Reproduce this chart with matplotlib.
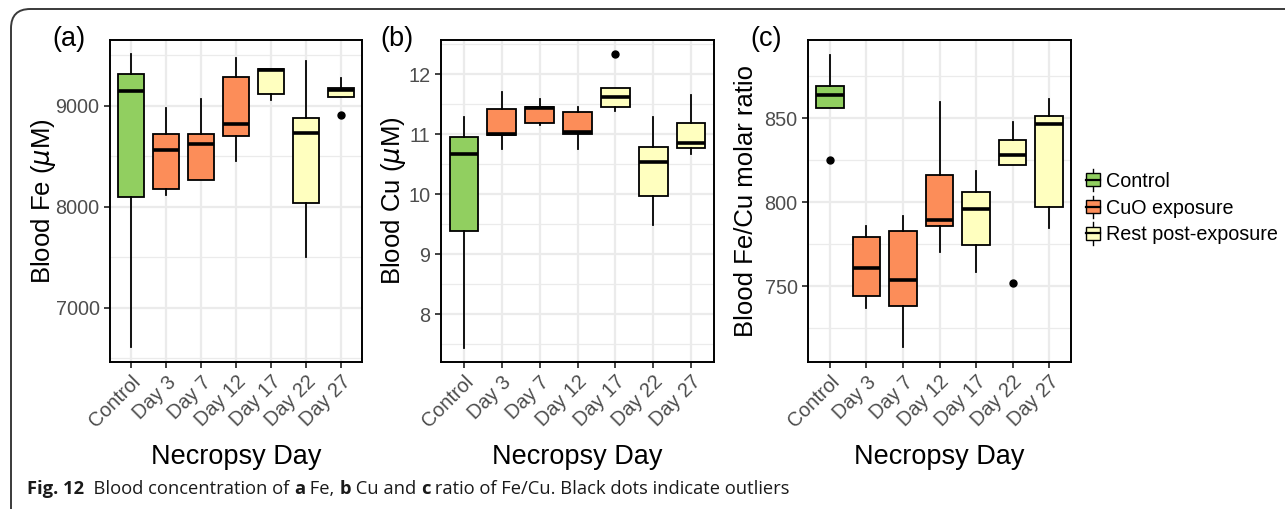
import matplotlib
matplotlib.use("Agg")
import matplotlib.pyplot as plt
from matplotlib.patches import Rectangle, FancyBboxPatch
from matplotlib.lines import Line2D
from matplotlib.legend_handler import HandlerBase
from matplotlib.ticker import MultipleLocator

plt.rcParams['font.family'] = ['Liberation Sans', 'DejaVu Sans']

days = ["Control", "Day 3", "Day 7", "Day 12", "Day 17", "Day 22", "Day 27"]
groups = ["Control", "CuO exposure", "CuO exposure", "CuO exposure",
          "Rest post-exposure", "Rest post-exposure", "Rest post-exposure"]
group_colors = {"Control": "#91CF60", "CuO exposure": "#FC8D59",
                "Rest post-exposure": "#FFFFBF"}

# (a) Blood Fe, uM: whisker low, Q1, median, Q3, whisker high, outliers
fe_low = [6617, 8119, 8267, 8452, 9059, 7508, 9086]
fe_q1 = [8102, 8178, 8267, 8703, 9116, 8043, 9086]
fe_med = [9145, 8561, 8621, 8825, 9356, 8736, 9158]
fe_q3 = [9317, 8723, 8720, 9284, 9370, 8878, 9178]
fe_high = [9515, 8977, 9073, 9472, 9370, 9449, 9274]
fe_out = [[], [], [], [], [], [], [8911]]

# (b) Blood Cu, uM
cu_low = [7.44, 10.745, 11.145, 10.755, 11.38, 9.48, 10.67]
cu_q1 = [9.38, 10.98, 11.19, 11.005, 11.445, 9.97, 10.77]
cu_med = [10.67, 11.005, 11.43, 11.03, 11.62, 10.54, 10.845]
cu_q3 = [10.945, 11.42, 11.455, 11.37, 11.77, 10.79, 11.18]
cu_high = [11.29, 11.705, 11.58, 11.445, 11.77, 11.29, 11.655]
cu_out = [[], [], [], [], [12.33], [], []]

# (c) Fe/Cu molar ratio
ra_low = [856.2, 737.0, 713.6, 770.2, 758.7, 822.4, 784.4]
ra_q1 = [856.2, 744.4, 738.3, 785.9, 774.5, 822.4, 797.4]
ra_med = [863.9, 760.8, 753.7, 789.3, 795.7, 828.3, 846.7]
ra_q3 = [869.4, 779.2, 782.8, 816.0, 806.1, 837.2, 851.2]
ra_high = [887.6, 785.8, 791.7, 859.5, 818.6, 847.6, 861.5]
ra_out = [[825], [], [], [], [], [752], []]

W, H = 1285, 509
fig = plt.figure(figsize=(W / 100, H / 100), dpi=100)


def fx(px):
    return px / W


def fy(py):
    return 1 - py / H


top, bot = 40, 362


def draw_panel(left, right, low, q1, med, q3, high, out, ylim, major, minor,
               ylabel, ylab_x, tag, tag_x):
    ax = fig.add_axes([fx(left), fy(bot), fx(right - left), (bot - top) / H])
    stats = []
    for i in range(len(days)):
        stats.append(dict(whislo=low[i], q1=q1[i], med=med[i], q3=q3[i],
                          whishi=high[i], fliers=out[i]))
    pos = list(range(1, len(days) + 1))
    res = ax.bxp(stats, positions=pos, widths=0.75, patch_artist=True,
                 showcaps=False,
                 boxprops=dict(linewidth=1.3, edgecolor="black"),
                 medianprops=dict(color="black", linewidth=2.6),
                 whiskerprops=dict(color="black", linewidth=1.3),
                 flierprops=dict(marker="o", markerfacecolor="black",
                                 markeredgecolor="black", markersize=5))
    for patch, g in zip(res["boxes"], groups):
        patch.set_facecolor(group_colors[g])
    ax.set_xlim(0.4, 7.6)
    ax.set_ylim(*ylim)
    ax.yaxis.set_major_locator(MultipleLocator(major))
    ax.yaxis.set_minor_locator(MultipleLocator(minor))
    ax.set_xticks(pos)
    ax.set_xticklabels(days, rotation=45, ha="right", va="top",
                       rotation_mode="anchor")
    ax.grid(True, which="major", color="#EBEBEB", linewidth=1.6)
    ax.grid(True, which="minor", axis="y", color="#EBEBEB", linewidth=0.9)
    ax.set_axisbelow(True)
    ax.tick_params(which="major", length=4.5, width=1.3, color="#333333",
                   labelcolor="#4D4D4D", labelsize=14.3, pad=3)
    ax.tick_params(which="minor", length=0)
    for lbl in ax.get_xticklabels() + ax.get_yticklabels():
        lbl.set_fontfamily(["Liberation Sans", "DejaVu Sans"])
    for s in ax.spines.values():
        s.set_linewidth(1.4)
        s.set_color("black")
    ax.set_ylabel(ylabel, fontsize=18.5, color="black")
    ax.yaxis.label.set_verticalalignment("baseline")
    ax.yaxis.set_label_coords((ylab_x - left) / (right - left), 0.5)
    ax.set_xlabel("Necropsy Day", fontsize=19.5, color="black")
    ax.xaxis.label.set_verticalalignment("baseline")
    ax.xaxis.set_label_coords(0.5, -(463.5 - bot) / (bot - top))
    fig.text(fx(tag_x), fy(39), tag, fontsize=19.5, ha="left", va="center")
    return ax


draw_panel(110, 362, fe_low, fe_q1, fe_med, fe_q3, fe_high, fe_out,
           (6465, 9653), 1000, 500, r"Blood Fe ($\mu$M)", 50, "(a)", 52)
draw_panel(441, 714, cu_low, cu_q1, cu_med, cu_q3, cu_high, cu_out,
           (7.2, 12.567), 1, 0.5, r"Blood Cu ($\mu$M)", 400, "(b)", 380)
draw_panel(808, 1071, ra_low, ra_q1, ra_med, ra_q3, ra_high, ra_out,
           (704.9, 896.5), 50, 25, "Blood Fe/Cu molar ratio", 753, "(c)", 750)


class BoxKey(HandlerBase):
    def create_artists(self, legend, orig, xd, yd, width, height, fontsize, trans):
        cx = xd + width / 2
        bw = width * 0.9
        bh = height * 0.95
        wl = Line2D([cx, cx], [yd - height * 0.3, yd + height * 1.3],
                    color="black", linewidth=1.0, transform=trans)
        box = Rectangle((cx - bw / 2, yd + (height - bh) / 2), bw, bh,
                        facecolor=orig.get_facecolor(), edgecolor="black",
                        linewidth=1.0, transform=trans)
        md = Line2D([cx - bw / 2, cx + bw / 2], [yd + height / 2] * 2,
                    color="black", linewidth=1.6, transform=trans)
        return [wl, box, md]


handles = [Rectangle((0, 0), 1, 1, facecolor=group_colors[g]) for g in group_colors]
fig.legend(handles, list(group_colors), handler_map={Rectangle: BoxKey()},
           loc="center left", bbox_to_anchor=(fx(1085), fy(208)), frameon=False,
           fontsize=14.2, handlelength=0.8, handleheight=0.7, handletextpad=0.25,
           labelspacing=0.4, borderaxespad=0, borderpad=0)

# outer frame of the figure panel
frame = FancyBboxPatch((fx(11), fy(560)), fx(1400), (560 - 9) / H,
                       boxstyle="round,pad=0,rounding_size=0.015",
                       transform=fig.transFigure, facecolor="none",
                       edgecolor="#3a3a3a", linewidth=1.4, clip_on=False,
                       mutation_aspect=W / H)
fig.patches.append(frame)

# caption with bold parts
cap_parts = [("Fig. 12", "bold"), ("  Blood concentration of ", "normal"),
             ("a", "bold"), (" Fe, ", "normal"), ("b", "bold"),
             (" Cu and ", "normal"), ("c", "bold"),
             (" ratio of Fe/Cu. Black dots indicate outliers", "normal")]
renderer = fig.canvas.get_renderer()
x = 27
for txt, wt in cap_parts:
    t = fig.text(fx(x), fy(489), txt, fontsize=13.2, fontweight=wt,
                 family=["Open Sans", "DejaVu Sans"], ha="left", va="center",
                 color="#1a1a1a")
    bb = t.get_window_extent(renderer=renderer)
    x += bb.width

fig.savefig("out.png", dpi=100)
